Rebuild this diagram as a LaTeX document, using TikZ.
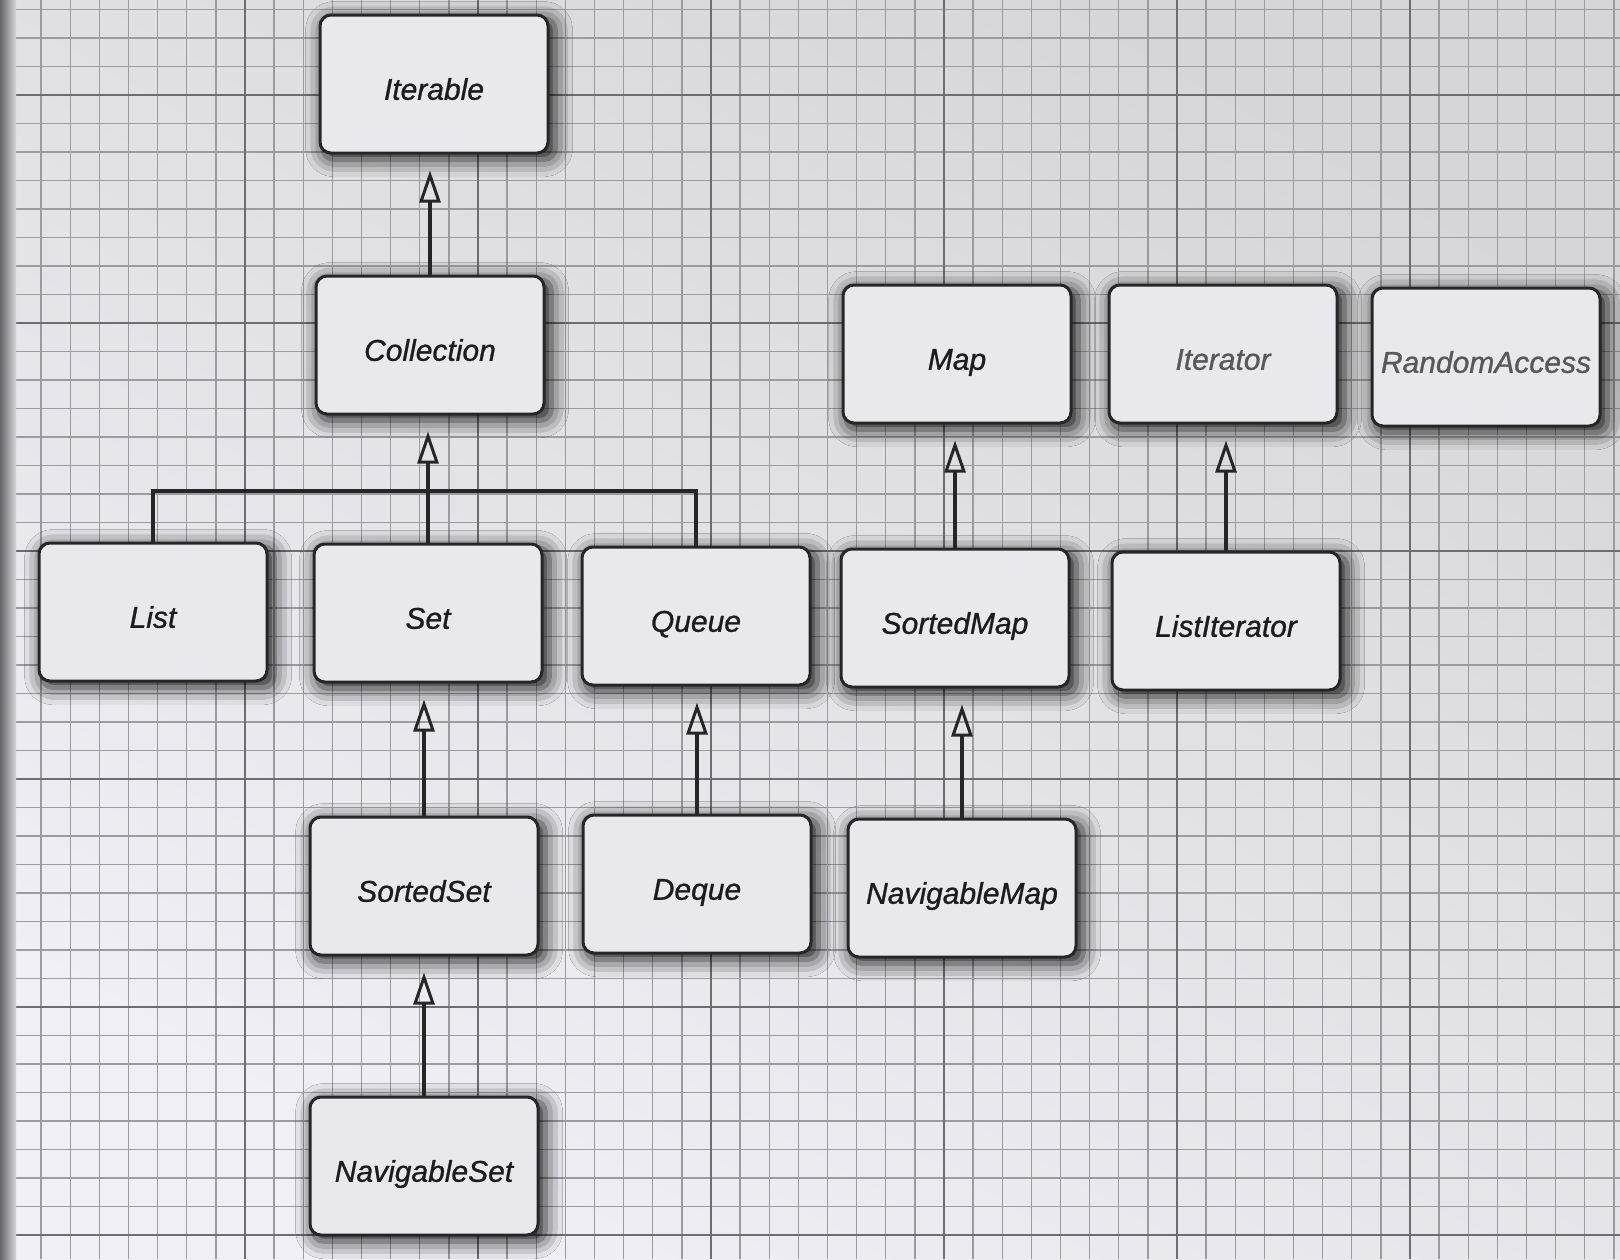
\documentclass[tikz,border=0pt]{standalone}
\usepackage{fontspec}
\setmainfont{Liberation Sans}
\newfontfamily\boxfont[FakeBold=0.9]{Liberation Sans Italic}
\usetikzlibrary{arrows.meta,shadows.blur}
\definecolor{paperA}{HTML}{D6D6D8}
\definecolor{paperB}{HTML}{F0F0F4}
\definecolor{gridminor}{HTML}{9C9C9E}
\definecolor{gridmajor}{HTML}{6E6E70}
\definecolor{boxfill}{HTML}{E9E9EB}
\definecolor{boxline}{HTML}{262626}
\definecolor{inktext}{HTML}{1C1C1C}
\definecolor{fadedtext}{HTML}{58585A}
\definecolor{edgedark}{HTML}{666668}
\tikzset{
  iface/.style={draw=boxline, line width=3pt, rounded corners=11pt, fill=boxfill,
    minimum width=228pt, minimum height=138pt, inner sep=0pt, text=inktext,
    text height=33pt, text depth=1.5pt,
    font=\fontsize{30pt}{36pt}\selectfont\boxfont,
    blur shadow={shadow xshift=5pt, shadow yshift=-5pt, shadow scale=1.02, shadow blur radius=17pt, shadow opacity=88}},
  faded/.style={text=fadedtext},
  gen/.style={draw=boxline, line width=3.2pt, -{Triangle[open, length=32pt, width=21pt, line width=3pt]}, shorten >=16pt},
  bus/.style={draw=boxline, line width=3.2pt}
}
\begin{document}
\begin{tikzpicture}[x=1pt, y=-1pt]
\useasboundingbox (0,0) rectangle (1620,1259);
% paper
\shade[left color=paperA, right color=paperB, shading angle=-30] (0,0) rectangle (1620,1259);
% grid
\foreach \i in {0,...,55} {
  \pgfmathsetmacro{\gx}{12+\i*29.125}
  \draw[gridminor, line width=1.4pt] (\gx,0) -- (\gx,1259);
}
\foreach \k in {-3,...,41} {
  \pgfmathsetmacro{\gy}{95+\k*28.5}
  \draw[gridminor, line width=1.4pt] (12,\gy) -- (1620,\gy);
}
\foreach \gx in {12,245,478,711,944,1177,1410} {
  \draw[gridmajor, line width=2.4pt] (\gx,0) -- (\gx,1259);
}
\foreach \gy in {95,323,551,779,1007,1235} {
  \draw[gridmajor, line width=2.4pt] (12,\gy) -- (1620,\gy);
}
% dark paper edge at left
\shade[left color=edgedark, right color=paperA] (0,0) rectangle (16,1259);

% nodes
\node[iface] (iterable) at (434,84) {Iterable};
\node[iface] (collection) at (430,345) {Collection};
\node[iface] (map) at (957,354) {Map};
\node[iface, faded] (iterator) at (1223,354) {Iterator};
\node[iface, faded] (randomaccess) at (1486,357) {RandomAccess};
\node[iface] (list) at (153,612) {List};
\node[iface] (set) at (428,613) {Set};
\node[iface] (queue) at (696,616) {Queue};
\node[iface] (sortedmap) at (955,618) {SortedMap};
\node[iface] (listiterator) at (1226,621) {ListIterator};
\node[iface] (sortedset) at (424,886) {SortedSet};
\node[iface] (deque) at (697,884) {Deque};
\node[iface] (navigablemap) at (962,888) {NavigableMap};
\node[iface] (navigableset) at (424,1166) {NavigableSet};

% connectors
\coordinate (busline) at (0,491);
\draw[bus] (list.north) -- (list.north |- busline) -- (queue.north |- busline) -- (queue.north);
\draw[gen] (collection.north) -- (collection.north |- iterable.south);
\draw[gen] (set.north) -- (set.north |- collection.south);
\draw[gen] (sortedset.north) -- (sortedset.north |- set.south);
\draw[gen] (navigableset.north) -- (navigableset.north |- sortedset.south);
\draw[gen] (deque.north) -- (deque.north |- queue.south);
\draw[gen] (sortedmap.north) -- (sortedmap.north |- map.south);
\draw[gen] (navigablemap.north) -- (navigablemap.north |- sortedmap.south);
\draw[gen] (listiterator.north) -- (listiterator.north |- iterator.south);
\end{tikzpicture}
\end{document}
